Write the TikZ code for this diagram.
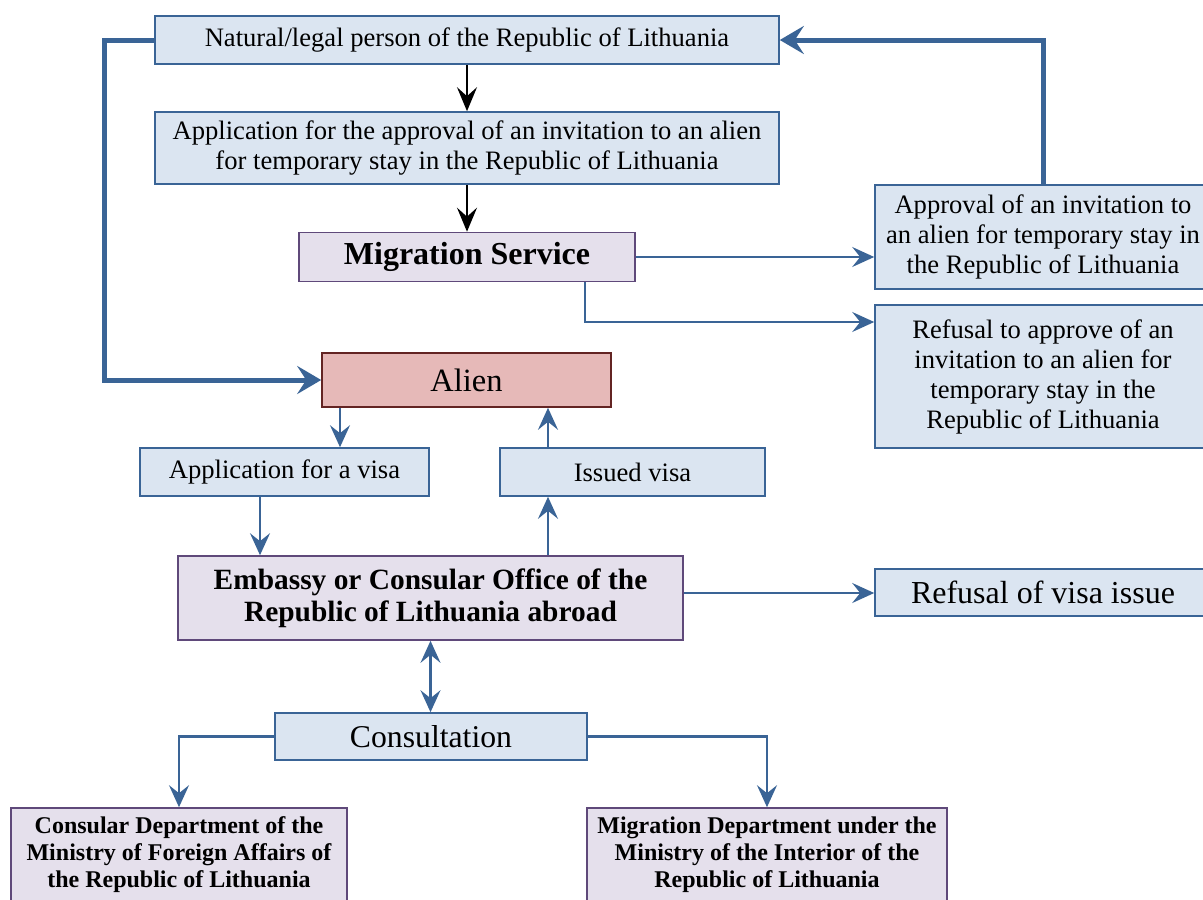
\documentclass[tikz,border=0pt]{standalone}
\usepackage{fontspec}
\setmainfont{Liberation Serif}
\usetikzlibrary{arrows.meta}
\definecolor{boxblue}{HTML}{3A6496}
\definecolor{boxfill}{HTML}{DBE5F1}
\definecolor{lilacfill}{HTML}{E5E0EC}
\definecolor{lilacline}{HTML}{5F497A}
\definecolor{alienfill}{HTML}{E6B9B8}
\definecolor{alienline}{HTML}{632423}
\newcommand{\lw}{1.6pt}

\begin{document}
\begin{tikzpicture}[x=1pt,y=-1pt,
  bluebox/.style={draw=boxblue,fill=boxfill,line width=\lw,align=center,inner sep=0pt,font=\fontsize{26.6}{30}\selectfont},
  lilacbox/.style={draw=lilacline,fill=lilacfill,line width=\lw,align=center,inner sep=0pt,font=\fontsize{29.4}{32}\selectfont\bfseries},
  alienbox/.style={draw=alienline,fill=alienfill,line width=\lw,align=center,inner sep=0pt,font=\fontsize{32.5}{34}\selectfont},
  blackflow/.style={-{Stealth[length=24pt,width=20pt,inset=9pt]},line width=2pt,black},
  flow/.style={-{Stealth[length=22pt,width=20pt,inset=8pt]},line width=2.2pt,boxblue},
  bigflow/.style={-{Stealth[length=24pt,width=28pt,inset=9pt]},line width=5pt,boxblue},
  twoflow/.style={{Stealth[length=22pt,width=20pt,inset=8pt]}-{Stealth[length=22pt,width=20pt,inset=8pt]},line width=2.2pt,boxblue}]
\clip (0,0) rectangle (1203,900);
\fill[white] (0,0) rectangle (1203,900);
% boxes
\node[bluebox,minimum width=624pt,minimum height=48pt] (nat) at (467,40) {Natural/legal person of the Republic of Lithuania};
\node[bluebox,minimum width=624pt,minimum height=72pt] (appl) at (467,148) {Application for the approval of an invitation to an alien\\for temporary stay in the Republic of Lithuania};
\node[lilacbox,minimum width=336pt,minimum height=49pt,font=\fontsize{32}{34}\selectfont\bfseries] (migr) at (467,257) {Migration Service};
\node[bluebox,minimum width=336pt,minimum height=104pt] (appr) at (1043,237) {Approval of an invitation to\\an alien for temporary stay in\\the Republic of Lithuania};
\node[bluebox,minimum width=336pt,minimum height=143pt] (refu) at (1043,376.5) {Refusal to approve of an\\invitation to an alien for\\temporary stay in the\\Republic of Lithuania};
\node[alienbox,minimum width=289pt,minimum height=54pt] (alien) at (466.5,380) {Alien};
\node[bluebox,minimum width=289pt,minimum height=48pt] (appv) at (284.5,472) {Application for a visa};
\node[bluebox,minimum width=265pt,minimum height=48pt] (issv) at (632.5,472) {Issued visa};
\node[lilacbox,minimum width=505pt,minimum height=84pt] (emb) at (430.5,598) {Embassy or Consular Office of the\\Republic of Lithuania abroad};
\node[bluebox,minimum width=336pt,minimum height=47pt,font=\fontsize{32}{34}\selectfont] (refv) at (1043,592.5) {Refusal of visa issue};
\node[bluebox,minimum width=312pt,minimum height=47pt,font=\fontsize{31.7}{34}\selectfont] (cons) at (431,736.5) {Consultation};
\node[lilacbox,minimum width=336pt,minimum height=94pt,font=\fontsize{24}{27}\selectfont\bfseries] (cdep) at (179,855) {Consular Department of the\\Ministry of Foreign Affairs of\\the Republic of Lithuania};
\node[lilacbox,minimum width=360pt,minimum height=94pt,font=\fontsize{24}{27}\selectfont\bfseries] (mdep) at (767,855) {Migration Department under the\\Ministry of the Interior of the\\Republic of Lithuania};
% connectors
\draw[blackflow] (nat) -- (appl);
\draw[blackflow] (appl) -- (migr);
\draw[bigflow] (nat.west) -- ++(-50,0) |- (alien.west);
\draw[bigflow] (appr.north) |- (nat.east);
\draw[flow] (migr.east) -- (migr.east -| appr.west);
\draw[flow] ([xshift=118pt]migr.south) |- ([yshift=54.5pt]refu.west);
\draw[flow] ([xshift=-126.5pt]alien.south) -- ([xshift=55.5pt]appv.north);
\draw[flow] ([xshift=-84.5pt]issv.north) -- ([xshift=81.5pt]alien.south);
\draw[flow] ([xshift=-24.5pt]appv.south) -- ([xshift=-170.5pt]emb.north);
\draw[flow] ([xshift=117.5pt]emb.north) -- ([xshift=-84.5pt]issv.south);
\draw[flow] ([yshift=5pt]emb.east) -- ([yshift=5pt]emb.east -| refv.west);
\draw[twoflow] (emb.south) -- (emb.south |- cons.north);
\draw[flow] (cons.west) -| (cdep.north);
\draw[flow] (cons.east) -| (mdep.north);
\end{tikzpicture}
\end{document}
